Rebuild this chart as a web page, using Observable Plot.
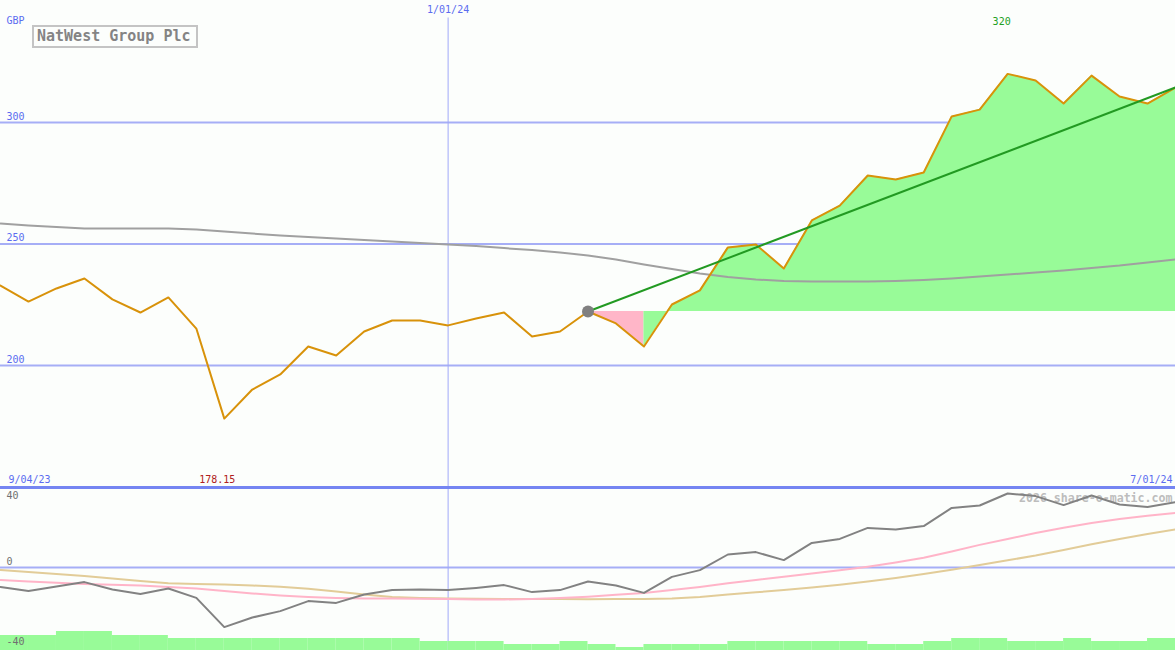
<!DOCTYPE html>
<html>
<head>
<meta charset="utf-8">
<script src="https://cdn.jsdelivr.net/npm/d3@7"></script>
<script src="https://cdn.jsdelivr.net/npm/@observablehq/plot@0.6"></script>
<style>
  html, body { margin: 0; padding: 0; background: #fcfefc; }
  #wrap { position: relative; width: 1175px; height: 650px; overflow: hidden; }
  #wrap svg { display: block; }
  #title {
    position: absolute; left: 32px; top: 25px; width: 159px; height: 19px;
    border: 2px solid #c4c4c4; background: #fcfefc;
    font: bold 15px "DejaVu Sans Mono", monospace; color: #848484;
    line-height: 19px; padding-left: 3px; white-space: nowrap;
  }
</style>
</head>
<body>
<div id="wrap"><div id="title">NatWest Group Plc</div></div>
<script>
// ---- data ----
const title = "NatWest Group Plc";
const dates = ["2023-09-11","2023-09-18","2023-09-25","2023-10-02","2023-10-09","2023-10-16","2023-10-23","2023-10-30",
  "2023-11-06","2023-11-13","2023-11-20","2023-11-27","2023-12-04","2023-12-11","2023-12-18","2023-12-25",
  "2024-01-01","2024-01-08","2024-01-15","2024-01-22","2024-01-29","2024-02-05","2024-02-12","2024-02-19","2024-02-26",
  "2024-03-04","2024-03-11","2024-03-18","2024-03-25","2024-04-01","2024-04-08","2024-04-15","2024-04-22","2024-04-29",
  "2024-05-06","2024-05-13","2024-05-20","2024-05-27","2024-06-03","2024-06-10","2024-06-17","2024-06-24","2024-07-01"];
const price = [232.9,226.3,231.7,235.8,227.2,221.8,228.0,215.2,178.15,190.1,196.3,207.8,204.1,214.0,218.5,218.5,
  216.5,219.3,221.8,211.9,214.0,222.2,217.3,207.8,225.1,230.9,248.6,249.8,239.9,259.7,265.8,278.2,276.5,279.4,
  302.5,305.3,320.0,317.3,307.8,319.3,310.7,307.8,314.4];
const longAverage = [258.4,257.6,257.0,256.4,256.4,256.4,256.4,256.0,255.1,254.3,253.5,252.9,252.3,251.6,251.0,250.4,
  249.8,249.2,248.3,247.5,246.5,245.3,243.6,241.6,239.7,237.9,236.4,235.4,234.8,234.6,234.6,234.6,234.8,235.2,
  235.8,236.6,237.4,238.3,239.1,240.1,241.1,242.4,243.6];
const relative = [-9.7,-11.8,-9.5,-7.3,-11.0,-13.2,-10.5,-15.2,-29.8,-25.0,-21.8,-16.8,-17.7,-13.5,-11.3,-11.0,
  -11.3,-10.2,-8.8,-12.3,-11.3,-7.0,-9.0,-12.7,-4.7,-1.3,6.5,7.7,3.7,12.3,14.3,19.8,19.0,20.7,29.8,31.0,37.0,35.7,
  31.2,36.0,31.5,30.2,32.7];
const relShortAvg = [-6.3,-7.0,-7.6,-8.2,-8.6,-9.0,-9.7,-10.5,-11.8,-13.0,-14.0,-14.8,-15.3,-15.5,-15.5,-15.6,
  -15.8,-16.0,-16.0,-15.7,-15.3,-14.6,-13.6,-12.7,-11.3,-9.7,-7.9,-6.2,-4.6,-3.0,-1.4,0.4,2.5,4.9,8.0,11.3,14.3,
  17.2,19.9,22.2,24.2,25.9,27.3];
const relLongAvg = [-1.3,-2.3,-3.3,-4.2,-5.5,-6.8,-7.9,-8.3,-8.5,-9.0,-9.6,-10.6,-12.0,-13.5,-14.8,-15.3,
  -15.5,-15.6,-15.7,-15.7,-15.8,-15.9,-15.8,-15.7,-15.5,-14.7,-13.5,-12.4,-11.3,-10.0,-8.6,-7.0,-5.2,-3.2,-1.1,
  1.2,3.6,6.0,8.8,11.6,14.3,16.8,19.0];
// weekly volume blocks (one per interval between points)
const volume = [7.5,7.5,9.5,9.5,7.5,7.5,6,6,6,6,6,6,6,6,6,4.5,4.5,4.5,3,3,4.5,3,1.5,3,3,3,4.5,4.5,4.5,4.5,4.5,
  3,3,4.5,6,6,4.5,4.5,6,4.5,4.5,6];
const priceGrid = [200, 250, 300];
const relTop = [40];
const relOthers = [0, -40];
const markerDate = "2024-01-01";
const trendStart = 21;      // index where trend line / fill starts
const fallEnd = 23;         // index where the pink (below) fill ends
const startLabel = "9/04/23";
const endLabel = "7/01/24";
const markerLabel = "1/01/24";
const unitLabel = "GBP";
const watermark = "2026 share-o-matic.com";

// ---- build ----
const rows = dates.map((d, i) => ({
  date: new Date(d), price: price[i], avg: longAverage[i],
  rel: relative[i], relS: relShortAvg[i], relL: relLongAvg[i]
}));
const bars = volume.map((v, i) => ({x1: rows[i].date, x2: rows[i + 1].date, v}));
const base = price[trendStart];
const maxI = price.indexOf(d3.max(price));
const minI = price.indexOf(d3.min(price));
const xDomain = [rows[0].date, rows[rows.length - 1].date];
const mDate = new Date(markerDate);
const font = {fontFamily: "DejaVu Sans Mono, monospace", fontSize: "10px", background: "#fcfefc", overflow: "visible"};
const blue = "#5b6cf0";

const main = Plot.plot({
  width: 1175, height: 486,
  margin: 0,
  style: font,
  x: {type: "utc", domain: xDomain, axis: null},
  y: {domain: [150.2, 350.2], axis: null},
  marks: [
    Plot.ruleY(priceGrid, {stroke: "#a6aef6", strokeWidth: 2}),
    Plot.text(priceGrid, {y: d => d, frameAnchor: "left", dx: 6, dy: -6, textAnchor: "start", text: d => String(d), fill: blue}),
    Plot.ruleX([mDate], {y1: 150.2, y2: 343, stroke: "#a0a8f8", strokeWidth: 1}),
    Plot.text([markerLabel], {x: mDate, frameAnchor: "top", dy: 5, text: d => d, fill: blue}),
    Plot.text([unitLabel], {frameAnchor: "top-left", dx: 6, dy: 16, textAnchor: "start", text: d => d, fill: blue}),
    Plot.areaY(rows.slice(trendStart, fallEnd + 1), {x: "date", y1: () => base, y2: "price", fill: "#ffb6c8"}),
    Plot.areaY(rows.slice(fallEnd), {x: "date", y1: () => base, y2: "price", fill: "#98fb98"}),
    Plot.line(rows, {x: "date", y: "avg", stroke: "#a0a0a0", strokeWidth: 2}),
    Plot.line(rows, {x: "date", y: "price", stroke: "#d8920a", strokeWidth: 2}),
    Plot.link([0], {x1: () => rows[trendStart].date, y1: () => base,
                    x2: () => rows[rows.length - 1].date, y2: () => price[price.length - 1],
                    stroke: "#229a22", strokeWidth: 2}),
    Plot.dot([rows[trendStart]], {x: "date", y: "price", r: 6, fill: "#808080"}),
    Plot.text([rows[maxI]], {x: "date", frameAnchor: "top", dy: 17, dx: -6, text: d => String(Math.round(d.price)), fill: "#22a022"}),
    Plot.text([rows[minI]], {x: "date", frameAnchor: "bottom", dy: -4, dx: -7, text: d => d.price.toFixed(2), fill: "#b02020"}),
    Plot.text([startLabel], {frameAnchor: "bottom-left", dx: 8, dy: -4, textAnchor: "start", text: d => d, fill: blue}),
    Plot.text([endLabel], {frameAnchor: "bottom-right", dx: -3, dy: -4, textAnchor: "end", text: d => d, fill: blue})
  ]
});

const lower = Plot.plot({
  width: 1175, height: 164,
  margin: 0,
  style: font,
  x: {type: "utc", domain: xDomain, axis: null},
  y: {domain: [-41.5, 40.5], axis: null},
  marks: [
    Plot.ruleY([0], {stroke: "#a6aef6", strokeWidth: 2}),
    Plot.ruleX([mDate], {stroke: "#a0a8f8", strokeWidth: 1}),
    Plot.text([watermark], {frameAnchor: "top-right", dx: -3, dy: 7, textAnchor: "end", text: d => d, fill: "#bdbdbd", fontWeight: "bold", fontSize: 11.6}),
    Plot.line(rows, {x: "date", y: "relL", stroke: "#e2cc98", strokeWidth: 2}),
    Plot.line(rows, {x: "date", y: "relS", stroke: "#ffb4c8", strokeWidth: 2}),
    Plot.line(rows, {x: "date", y: "rel", stroke: "#828282", strokeWidth: 2}),
    Plot.rectY(bars, {x1: "x1", x2: "x2", y1: -41.5, y2: d => -41.5 + d.v, fill: "#98fb98"}),
    Plot.ruleY([40], {stroke: "#7585f2", strokeWidth: 3}),
    Plot.text(relTop, {x: () => xDomain[0], y: d => d, dx: 6, dy: 8, textAnchor: "start", text: d => String(d), fill: "#707070"}),
    Plot.text(relOthers, {x: () => xDomain[0], y: d => d, dx: 6, dy: -6, textAnchor: "start", text: d => String(d), fill: "#707070"})
  ]
});

const wrap = document.getElementById("wrap");
wrap.insertBefore(main, wrap.firstChild);
wrap.insertBefore(lower, document.getElementById("title"));
</script>
</body>
</html>
